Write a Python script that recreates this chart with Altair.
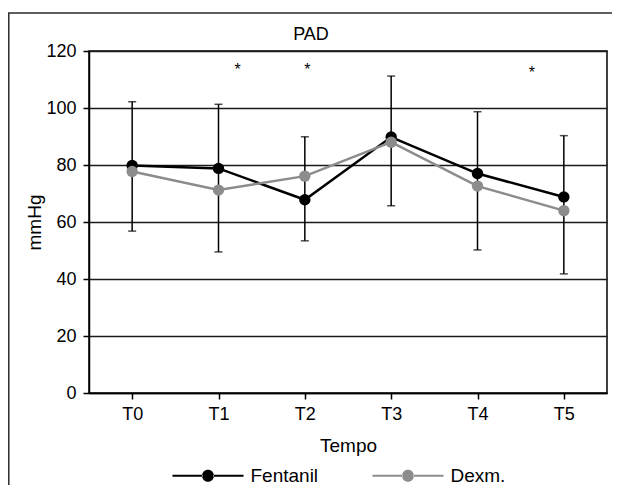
import altair as alt
import pandas as pd

# ---- data ----
times = ["T0", "T1", "T2", "T3", "T4", "T5"]
groups = ["Fentanil", "Dexm."]
colors = ["#000000", "#8c8c8c"]
fentanil = [79.8, 78.8, 67.8, 89.8, 77.0, 68.8]
dexm = [77.7, 71.2, 76.1, 88.0, 72.6, 64.0]
err_low = [56.8, 49.5, 53.4, 65.7, 50.2, 41.8]
err_high = [102.2, 101.3, 89.9, 111.2, 98.7, 90.3]
star_pos = [1.22, 2.03, 4.63]
star_val = [114.6, 114.6, 113.8]
y_ticks = [0, 20, 40, 60, 80, 100, 120]
title_text = "PAD"

FONT = "Liberation Sans"

idx = list(range(len(times)))
lines_df = pd.DataFrame(
    {
        "idx": idx * 2,
        "group": [groups[0]] * len(times) + [groups[1]] * len(times),
        "value": fentanil + dexm,
        "order": [1] * len(times) + [0] * len(times),
    }
)
err_df = pd.DataFrame({"idx": idx, "lo": err_low, "hi": err_high})
star_df = pd.DataFrame({"pos": star_pos, "val": star_val})

label_expr = "[" + ",".join("'%s'" % t for t in times) + "][datum.value]"

x_scale = alt.Scale(domain=[-0.5, len(times) - 0.5], nice=False, zero=False)
y_scale = alt.Scale(domain=[0, 120], nice=False)

x_axis = alt.Axis(
    values=idx,
    labelExpr=label_expr,
    title="Tempo",
    grid=False,
    labelPadding=6,
    titlePadding=13,
    titleFontSize=19,
)
y_axis = alt.Axis(
    values=y_ticks,
    title="mmHg",
    grid=True,
    gridColor="#1a1a1a",
    gridWidth=1.5,
    labelPadding=7,
    titlePadding=1,
    titleFontSize=19,
)

color_scale = alt.Scale(domain=groups, range=colors)

# legend symbol: a line segment with a dot in the middle (unit radius dot)
legend_path = (
    "M-5.92,-0.18L-0.9,-0.18L-0.9,0.18L-5.92,0.18Z "
    "M0.9,-0.18L5.92,-0.18L5.92,0.18L0.9,0.18Z "
    "M-1,0A1,1 0 1,0 1,0A1,1 0 1,0 -1,0Z"
)

one = pd.DataFrame({"a": [0]})

frame = (
    alt.Chart(one)
    .mark_rect(fill="white", fillOpacity=0, stroke="#2a2a2a", strokeWidth=1.5)
    .encode(
        x=alt.value(-80.2),
        x2=alt.value(620),
        y=alt.value(-38),
        y2=alt.value(520),
    )
)

title = (
    alt.Chart(one)
    .mark_text(
        text=title_text,
        font=FONT,
        fontSize=18,
        color="black",
        align="center",
        baseline="middle",
    )
    .encode(x=alt.value(222), y=alt.value(-16))
)

base_err = alt.Chart(err_df)
err_rule = base_err.mark_rule(color="black", strokeWidth=1.5).encode(
    x=alt.X("idx:Q", scale=x_scale, axis=x_axis),
    y=alt.Y("lo:Q", scale=y_scale, axis=y_axis),
    y2="hi:Q",
)
cap_lo = base_err.mark_tick(
    orient="horizontal", size=8, thickness=1.5, color="black"
).encode(x=alt.X("idx:Q", scale=x_scale), y=alt.Y("lo:Q", scale=y_scale))
cap_hi = base_err.mark_tick(
    orient="horizontal", size=8, thickness=1.5, color="black"
).encode(x=alt.X("idx:Q", scale=x_scale), y=alt.Y("hi:Q", scale=y_scale))

legend = alt.Legend(
    title=" ",
    titleOrient="left",
    titleFontSize=1,
    titlePadding=202.5,
    orient="bottom-left",
    offset=-93,
    padding=0,
    direction="horizontal",
    symbolType=legend_path,
    symbolSize=144,
    symbolStrokeWidth=0,
    symbolOpacity=1,
    labelOffset=33,
    columnPadding=53,
    labelFont=FONT,
    labelFontSize=19,
    labelColor="black",
)

base_lines = alt.Chart(lines_df)
lines = base_lines.mark_line(strokeWidth=2.5).encode(
    x=alt.X("idx:Q", scale=x_scale),
    y=alt.Y("value:Q", scale=y_scale),
    color=alt.Color("group:N", scale=color_scale, sort=groups, legend=legend),
    detail="group:N",
    order="order:Q",
)
points = base_lines.mark_point(filled=True, size=130, opacity=1).encode(
    x=alt.X("idx:Q", scale=x_scale),
    y=alt.Y("value:Q", scale=y_scale),
    color=alt.Color("group:N", scale=color_scale, sort=groups, legend=legend),
)

stars = (
    alt.Chart(star_df)
    .mark_text(
        text="*", fontSize=16, font=FONT, color="black", baseline="middle", dy=4
    )
    .encode(x=alt.X("pos:Q", scale=x_scale), y=alt.Y("val:Q", scale=y_scale))
)

chart = (
    alt.layer(frame, title, err_rule, cap_lo, cap_hi, lines, points, stars)
    .properties(
        width=518,
        height=342,
        autosize=alt.AutoSizeParams(type="none"),
        padding={"left": 81, "top": 43, "right": 5, "bottom": 92},
        background="white",
    )
    .configure_view(stroke="black", strokeWidth=1.5)
    .configure_axis(
        labelFont=FONT,
        labelFontSize=18,
        labelColor="black",
        titleFont=FONT,
        titleFontSize=19,
        titleFontWeight="normal",
        titleColor="black",
        tickColor="black",
        tickSize=6,
        tickWidth=1.5,
        domainColor="black",
        domainWidth=1.5,
    )
)

chart.save("out.html", embed_options={"renderer": "svg", "actions": False})
